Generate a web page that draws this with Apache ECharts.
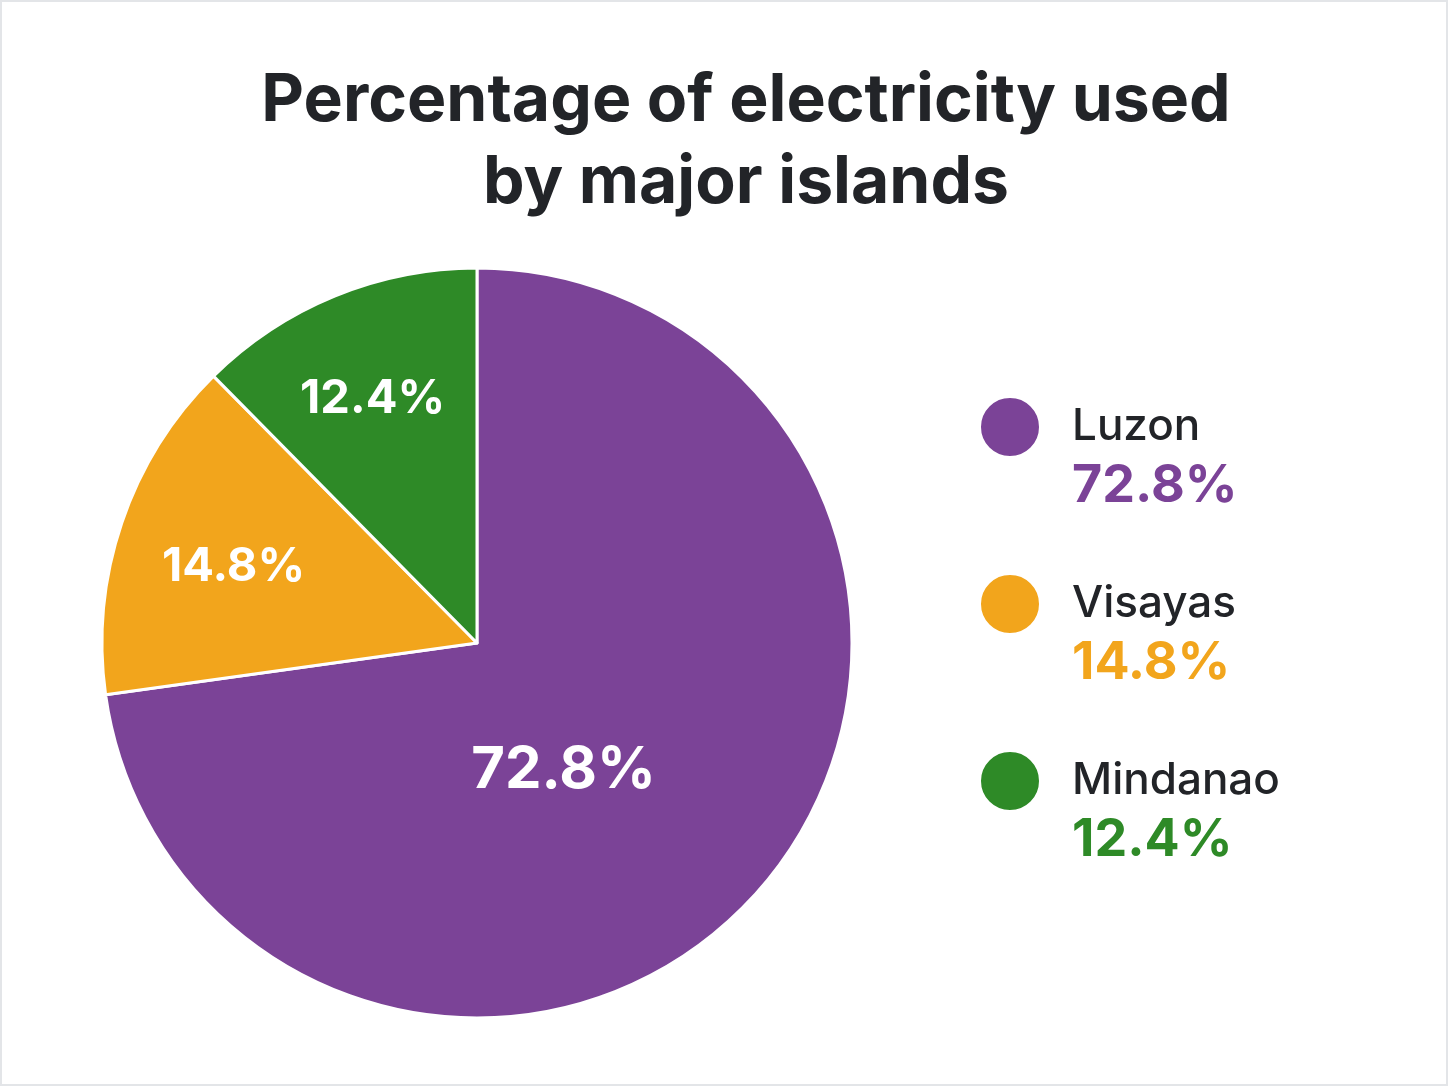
<!DOCTYPE html>
<html><head><meta charset="utf-8">
<script src="https://cdn.jsdelivr.net/npm/echarts@6/dist/echarts.min.js"></script>
<style>html,body{margin:0;padding:0;background:#fff}#c{width:1448px;height:1086px}</style>
</head><body><div id="c"></div>
<script>
const categories = ['Luzon', 'Visayas', 'Mindanao'];
const values = [72.8, 14.8, 12.4];
const colors = ['#7B4397', '#F2A51C', '#2E8A27'];
const titleText = 'Percentage of electricity used\nby major islands';

const labelOffsets = [[-57, 2], [-63, -15], [-32, -68]];
const labelSizes = [58, 47, 47];

const chart = echarts.init(document.getElementById('c'));
const rich = { s: { lineHeight: 59, fontSize: 10 }, n: { fontSize: 44, lineHeight: 59, color: '#222428', fontFamily: 'Inter', fontWeight: 500 } };
categories.forEach((c, i) => {
  rich['p' + i] = { fontSize: 52, lineHeight: 59, color: colors[i], fontFamily: 'Inter', fontWeight: 700 };
});
chart.setOption({
  backgroundColor: '#ffffff',
  graphic: [{ type: 'rect', shape: { x: 1, y: 1, width: 1446, height: 1084 }, style: { fill: 'none', stroke: '#e3e5e8', lineWidth: 2 }, silent: true }],
  title: {
    text: titleText, left: 741, top: 55, textAlign: 'center',
    textStyle: { fontFamily: 'Inter', fontWeight: 700, fontSize: 66, lineHeight: 82, color: '#222428' }
  },
  legend: {
    orient: 'vertical', left: 974, top: 358, itemWidth: 60, itemHeight: 60, itemGap: 28,
    icon: 'circle', selectedMode: false,
    formatter: (name) => {
      const i = categories.indexOf(name);
      return '{s| }\n{n|' + name + '}\n{p' + i + '|' + values[i].toFixed(1) + '%}';
    },
    textStyle: { padding: [0, 0, 0, 27], rich: rich }
  },
  series: [{
    type: 'pie', center: [477, 643], radius: 375, startAngle: 90, clockwise: true,
    avoidLabelOverlap: false,
    itemStyle: { borderColor: '#ffffff', borderWidth: 3 },
    label: { show: true, position: 'inside', color: '#ffffff', fontFamily: 'Inter', fontWeight: 700, formatter: (p) => p.value.toFixed(1) + '%' },
    labelLine: { show: false },
    emphasis: { disabled: true },
    data: categories.map((c, i) => ({
      name: c, value: values[i], itemStyle: { color: colors[i] },
      label: { offset: labelOffsets[i], fontSize: labelSizes[i] }
    }))
  }]
});
</script></body></html>
